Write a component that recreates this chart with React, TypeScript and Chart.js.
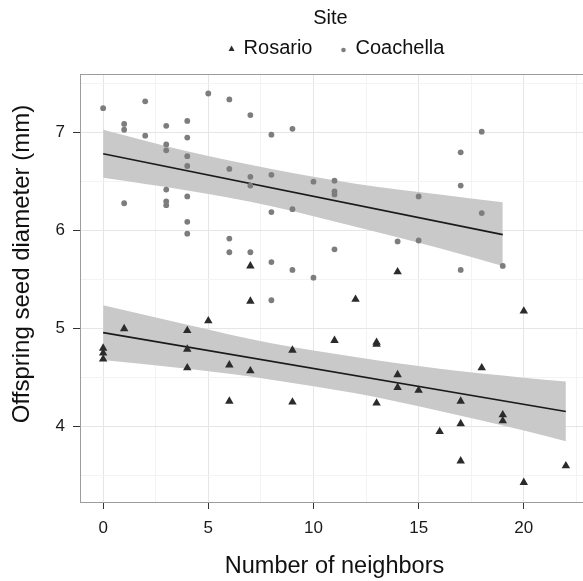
import React, { useEffect, useRef } from "react";
import { Chart, registerables } from "chart.js";

Chart.register(...registerables);

const FONT = "'Liberation Sans', Arial, Helvetica, sans-serif";

// Rosario (triangles)
const rosarioX = [0, 0, 0, 1, 4, 4, 4, 5, 6, 6, 7, 7, 7, 9, 9, 11, 12, 13, 13, 13, 14, 14, 14, 15, 16, 17, 17, 17, 18, 19, 19, 20, 20, 22];
const rosarioY = [4.80, 4.75, 4.69, 5.00, 4.98, 4.79, 4.60, 5.08, 4.63, 4.26, 5.64, 5.28, 4.57, 4.78, 4.25, 4.88, 5.30, 4.86, 4.84, 4.24, 5.58, 4.53, 4.40, 4.37, 3.95, 4.26, 4.03, 3.65, 4.60, 4.12, 4.06, 5.18, 3.43, 3.60];

// Coachella (circles)
const coachellaX = [0, 1, 1, 1, 2, 2, 3, 3, 3, 3, 3, 3, 4, 4, 4, 4, 4, 4, 4, 5, 6, 6, 6, 6, 7, 7, 7, 7, 8, 8, 8, 8, 8, 9, 9, 9, 10, 10, 11, 11, 11, 11, 14, 15, 15, 17, 17, 17, 18, 18, 19];
const coachellaY = [7.25, 7.09, 7.03, 6.28, 7.32, 6.97, 7.07, 6.88, 6.82, 6.42, 6.30, 6.26, 7.12, 6.95, 6.76, 6.66, 6.35, 6.09, 5.97, 7.40, 7.34, 6.63, 5.92, 5.78, 7.18, 6.55, 6.46, 5.78, 6.98, 6.57, 6.19, 5.68, 5.29, 7.04, 6.22, 5.60, 6.50, 5.52, 6.51, 6.40, 6.37, 5.81, 5.89, 6.35, 5.90, 6.80, 6.46, 5.60, 7.01, 6.18, 5.64];

// Fitted lines
const coachFitX = [0, 19];
const coachFitY = [6.785, 5.96];
const rosFitX = [0, 22];
const rosFitY = [4.96, 4.155];

// Confidence bands
const coachBandX = [0, 4, 8, 12, 16, 19];
const coachBandLo = [6.54, 6.41, 6.25, 6.04, 5.82, 5.64];
const coachBandHi = [7.03, 6.81, 6.63, 6.48, 6.37, 6.29];
const rosBandX = [0, 4, 8, 12, 16, 20, 22];
const rosBandLo = [4.68, 4.59, 4.48, 4.34, 4.16, 3.96, 3.85];
const rosBandHi = [5.24, 5.04, 4.85, 4.71, 4.59, 4.50, 4.46];

const xMajor = [0, 5, 10, 15, 20];
const xMinor = [2.5, 7.5, 12.5, 17.5, 22.5];
const yMajor = [4, 5, 6, 7];
const yMinor = [3.5, 4.5, 5.5, 6.5, 7.5];

const legendTitle = "Site";
const legendLabels = ["Rosario", "Coachella"];
const xTitle = "Number of neighbors";
const yTitle = "Offspring seed diameter (mm)";

const zip = (xs: number[], ys: number[]) => xs.map((x, i) => ({ x, y: ys[i] }));

const ROS_COLOR = "#2b2b2b";
const COACH_COLOR = "#7d7d7d";
const BAND_COLOR = "#c9c9c9";

const panelPlugin = {
  id: "panelAndLegend",
  afterDraw(chart: any) {
    const { ctx, chartArea } = chart;
    const { left, right, top, bottom } = chartArea;
    ctx.save();
    ctx.strokeStyle = "#9c9c9c";
    ctx.lineWidth = 1;
    ctx.strokeRect(left + 0.5, top + 0.5, right - left - 1, bottom - top - 1);

    // y axis title
    ctx.save();
    ctx.translate(22, 264);
    ctx.rotate(-Math.PI / 2);
    ctx.fillStyle = "#111";
    ctx.font = `24px ${FONT}`;
    ctx.textAlign = "center";
    ctx.textBaseline = "middle";
    ctx.fillText(yTitle, 0, 0);
    ctx.restore();

    // legend
    const cx = (left + right) / 2;
    ctx.fillStyle = "#111";
    ctx.font = `20px ${FONT}`;
    ctx.textBaseline = "middle";
    ctx.textAlign = "center";
    ctx.fillText(legendTitle, cx - 4, 18.5);

    ctx.textAlign = "left";
    const markerW = 6;
    const gap = 9;
    const spacing = 28;
    const w1 = ctx.measureText(legendLabels[0]).width;
    const w2 = ctx.measureText(legendLabels[1]).width;
    const total = markerW + gap + w1 + spacing + markerW + gap + w2;
    let x = cx + 2 - total / 2;
    const y = 48.5;
    // triangle
    ctx.fillStyle = ROS_COLOR;
    ctx.beginPath();
    ctx.moveTo(x + markerW / 2, y - 3);
    ctx.lineTo(x + markerW, y + 2.5);
    ctx.lineTo(x, y + 2.5);
    ctx.closePath();
    ctx.fill();
    x += markerW + gap;
    ctx.fillStyle = "#111";
    ctx.fillText(legendLabels[0], x, y);
    x += w1 + spacing;
    ctx.fillStyle = COACH_COLOR;
    ctx.beginPath();
    ctx.arc(x + markerW / 2, y + 1.5, 2.3, 0, Math.PI * 2);
    ctx.fill();
    x += markerW + gap;
    ctx.fillStyle = "#111";
    ctx.fillText(legendLabels[1], x, y);
    ctx.restore();
  },
};

export default function App() {
  const ref = useRef<HTMLCanvasElement | null>(null);

  useEffect(() => {
    if (!ref.current) return;
    const chart = new Chart(ref.current, {
      type: "scatter",
      data: {
        datasets: [
          {
            label: "Rosario",
            data: zip(rosarioX, rosarioY),
            pointStyle: "triangle",
            pointRadius: 4.9,
            pointBackgroundColor: ROS_COLOR,
            pointBorderWidth: 0,
            borderColor: ROS_COLOR,
            showLine: false,
            order: 0,
          },
          {
            label: "Coachella",
            data: zip(coachellaX, coachellaY),
            pointStyle: "circle",
            pointRadius: 2.9,
            pointBackgroundColor: COACH_COLOR,
            pointBorderWidth: 0,
            borderColor: COACH_COLOR,
            showLine: false,
            order: 1,
          },
          {
            type: "line",
            label: "coachFit",
            data: zip(coachFitX, coachFitY),
            borderColor: "#1a1a1a",
            borderWidth: 1.6,
            pointRadius: 0,
            fill: false,
            order: 2,
          },
          {
            type: "line",
            label: "rosFit",
            data: zip(rosFitX, rosFitY),
            borderColor: "#1a1a1a",
            borderWidth: 1.6,
            pointRadius: 0,
            fill: false,
            order: 3,
          },
          {
            type: "line",
            label: "coachLo",
            data: zip(coachBandX, coachBandLo),
            borderWidth: 0,
            borderColor: "rgba(0,0,0,0)",
            pointRadius: 0,
            fill: false,
            cubicInterpolationMode: "monotone",
            order: 10,
          },
          {
            type: "line",
            label: "coachHi",
            data: zip(coachBandX, coachBandHi),
            borderWidth: 0,
            borderColor: "rgba(0,0,0,0)",
            backgroundColor: BAND_COLOR,
            pointRadius: 0,
            fill: 4,
            cubicInterpolationMode: "monotone",
            order: 11,
          },
          {
            type: "line",
            label: "rosLo",
            data: zip(rosBandX, rosBandLo),
            borderWidth: 0,
            borderColor: "rgba(0,0,0,0)",
            pointRadius: 0,
            fill: false,
            cubicInterpolationMode: "monotone",
            order: 12,
          },
          {
            type: "line",
            label: "rosHi",
            data: zip(rosBandX, rosBandHi),
            borderWidth: 0,
            borderColor: "rgba(0,0,0,0)",
            backgroundColor: BAND_COLOR,
            pointRadius: 0,
            fill: 6,
            cubicInterpolationMode: "monotone",
            order: 13,
          },
        ] as any,
      },
      options: {
        animation: false,
        responsive: false,
        devicePixelRatio: 1,
        layout: { padding: { top: 74, right: 11, left: 0, bottom: 0 } },
        plugins: {
          legend: { display: false },
          tooltip: { enabled: false },
        },
        scales: {
          x: {
            type: "linear",
            min: -1.1,
            max: 23.1,
            afterBuildTicks: (scale: any) => {
              scale.ticks = [...xMajor, ...xMinor].sort((a, b) => a - b).map((v) => ({ value: v }));
            },
            afterFit: (scale: any) => {
              scale.height = 78;
            },
            ticks: {
              autoSkip: false,
              maxRotation: 0,
              padding: 9,
              color: "#1a1a1a",
              font: { family: FONT, size: 17 },
              callback: (v: any) => (xMajor.includes(Number(v)) ? String(v) : ""),
            },
            grid: {
              drawTicks: true,
              tickLength: 6,
              color: (c: any) => (xMajor.includes(c.tick?.value) ? "#e6e6e6" : "#f3f3f3"),
              tickColor: (c: any) => (xMajor.includes(c.tick?.value) ? "#333" : "rgba(0,0,0,0)"),
            },
            border: { display: false },
            title: {
              display: true,
              text: xTitle,
              color: "#111",
              font: { family: FONT, size: 23.5 },
              padding: { top: 0, bottom: 0 },
            },
          },
          y: {
            type: "linear",
            min: 3.221,
            max: 7.599,
            afterBuildTicks: (scale: any) => {
              scale.ticks = [...yMajor, ...yMinor].sort((a, b) => a - b).map((v) => ({ value: v }));
            },
            afterFit: (scale: any) => {
              scale.width = 80;
            },
            ticks: {
              autoSkip: false,
              padding: 8,
              color: "#1a1a1a",
              font: { family: FONT, size: 17 },
              callback: (v: any) => (yMajor.includes(Number(v)) ? String(v) : ""),
            },
            grid: {
              drawTicks: true,
              tickLength: 7,
              color: (c: any) => (yMajor.includes(c.tick?.value) ? "#e6e6e6" : "#f3f3f3"),
              tickColor: (c: any) => (yMajor.includes(c.tick?.value) ? "#333" : "rgba(0,0,0,0)"),
            },
            border: { display: false },
            title: { display: false },
          },
        },
      },
      plugins: [panelPlugin],
    } as any);
    return () => chart.destroy();
  }, []);

  return (
    <div style={{ position: "fixed", left: 0, top: 0, width: 583, height: 581, overflow: "hidden", background: "#fff" }}>
      <canvas ref={ref} width={600} height={581} style={{ display: "block" }} />
    </div>
  );
}
